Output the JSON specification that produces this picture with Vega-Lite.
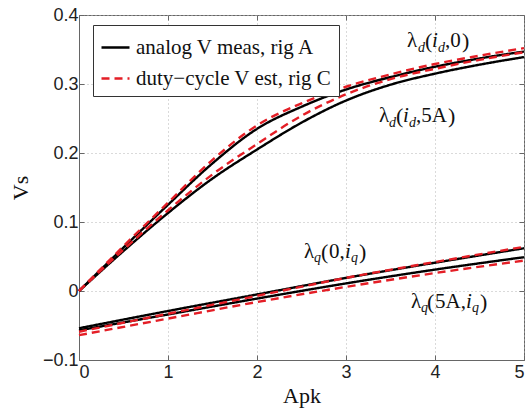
{
  "$schema": "https://vega.github.io/schema/vega-lite/v6.json",
  "width": 445,
  "height": 345,
  "autosize": {"type": "none"},
  "padding": {"left": 79, "top": 15, "right": 4, "bottom": 50},
  "background": "white",
  "config": {
    "view": {"stroke": "#666666", "strokeWidth": 1},
    "axis": {
      "labelFont": "Liberation Sans",
      "labelFontSize": 18,
      "labelColor": "#222222",
      "titleFont": "Liberation Serif",
      "titleFontSize": 22,
      "titleFontWeight": "normal",
      "titleColor": "#111111",
      "domainColor": "#666666",
      "tickColor": "#666666",
      "tickSize": -5,
      "gridColor": "#b5b5b5",
      "gridDash": [1, 3],
      "gridWidth": 1
    }
  },
  "datasets": {
    "curves": [
      {"x": 0, "y": 0, "c": "d0", "s": "analog V meas, rig A"},
      {"x": 0.5, "y": 0.063, "c": "d0", "s": "analog V meas, rig A"},
      {"x": 1, "y": 0.125, "c": "d0", "s": "analog V meas, rig A"},
      {"x": 1.5, "y": 0.185, "c": "d0", "s": "analog V meas, rig A"},
      {"x": 2, "y": 0.235, "c": "d0", "s": "analog V meas, rig A"},
      {"x": 2.5, "y": 0.267, "c": "d0", "s": "analog V meas, rig A"},
      {"x": 3, "y": 0.292, "c": "d0", "s": "analog V meas, rig A"},
      {"x": 3.5, "y": 0.31, "c": "d0", "s": "analog V meas, rig A"},
      {"x": 4, "y": 0.325, "c": "d0", "s": "analog V meas, rig A"},
      {"x": 4.5, "y": 0.337, "c": "d0", "s": "analog V meas, rig A"},
      {"x": 5, "y": 0.347, "c": "d0", "s": "analog V meas, rig A"},
      {"x": 0, "y": 0, "c": "d5", "s": "analog V meas, rig A"},
      {"x": 0.5, "y": 0.058, "c": "d5", "s": "analog V meas, rig A"},
      {"x": 1, "y": 0.113, "c": "d5", "s": "analog V meas, rig A"},
      {"x": 1.5, "y": 0.163, "c": "d5", "s": "analog V meas, rig A"},
      {"x": 2, "y": 0.205, "c": "d5", "s": "analog V meas, rig A"},
      {"x": 2.5, "y": 0.244, "c": "d5", "s": "analog V meas, rig A"},
      {"x": 3, "y": 0.276, "c": "d5", "s": "analog V meas, rig A"},
      {"x": 3.5, "y": 0.299, "c": "d5", "s": "analog V meas, rig A"},
      {"x": 4, "y": 0.315, "c": "d5", "s": "analog V meas, rig A"},
      {"x": 4.5, "y": 0.328, "c": "d5", "s": "analog V meas, rig A"},
      {"x": 5, "y": 0.339, "c": "d5", "s": "analog V meas, rig A"},
      {"x": 0, "y": -0.054, "c": "q0", "s": "analog V meas, rig A"},
      {"x": 1, "y": -0.029, "c": "q0", "s": "analog V meas, rig A"},
      {"x": 2, "y": -0.005, "c": "q0", "s": "analog V meas, rig A"},
      {"x": 3, "y": 0.019, "c": "q0", "s": "analog V meas, rig A"},
      {"x": 4, "y": 0.041, "c": "q0", "s": "analog V meas, rig A"},
      {"x": 5, "y": 0.062, "c": "q0", "s": "analog V meas, rig A"},
      {"x": 0, "y": -0.057, "c": "q5", "s": "analog V meas, rig A"},
      {"x": 1, "y": -0.034, "c": "q5", "s": "analog V meas, rig A"},
      {"x": 2, "y": -0.011, "c": "q5", "s": "analog V meas, rig A"},
      {"x": 3, "y": 0.011, "c": "q5", "s": "analog V meas, rig A"},
      {"x": 4, "y": 0.031, "c": "q5", "s": "analog V meas, rig A"},
      {"x": 5, "y": 0.049, "c": "q5", "s": "analog V meas, rig A"},
      {"x": 0, "y": 0, "c": "d0", "s": "duty−cycle V est, rig C"},
      {"x": 0.5, "y": 0.065, "c": "d0", "s": "duty−cycle V est, rig C"},
      {"x": 1, "y": 0.128, "c": "d0", "s": "duty−cycle V est, rig C"},
      {"x": 1.5, "y": 0.19, "c": "d0", "s": "duty−cycle V est, rig C"},
      {"x": 2, "y": 0.24, "c": "d0", "s": "duty−cycle V est, rig C"},
      {"x": 2.5, "y": 0.272, "c": "d0", "s": "duty−cycle V est, rig C"},
      {"x": 3, "y": 0.296, "c": "d0", "s": "duty−cycle V est, rig C"},
      {"x": 3.5, "y": 0.314, "c": "d0", "s": "duty−cycle V est, rig C"},
      {"x": 4, "y": 0.329, "c": "d0", "s": "duty−cycle V est, rig C"},
      {"x": 4.5, "y": 0.341, "c": "d0", "s": "duty−cycle V est, rig C"},
      {"x": 5, "y": 0.352, "c": "d0", "s": "duty−cycle V est, rig C"},
      {"x": 0, "y": 0, "c": "d5", "s": "duty−cycle V est, rig C"},
      {"x": 0.5, "y": 0.06, "c": "d5", "s": "duty−cycle V est, rig C"},
      {"x": 1, "y": 0.117, "c": "d5", "s": "duty−cycle V est, rig C"},
      {"x": 1.5, "y": 0.169, "c": "d5", "s": "duty−cycle V est, rig C"},
      {"x": 2, "y": 0.213, "c": "d5", "s": "duty−cycle V est, rig C"},
      {"x": 2.5, "y": 0.254, "c": "d5", "s": "duty−cycle V est, rig C"},
      {"x": 3, "y": 0.285, "c": "d5", "s": "duty−cycle V est, rig C"},
      {"x": 3.5, "y": 0.307, "c": "d5", "s": "duty−cycle V est, rig C"},
      {"x": 4, "y": 0.322, "c": "d5", "s": "duty−cycle V est, rig C"},
      {"x": 4.5, "y": 0.335, "c": "d5", "s": "duty−cycle V est, rig C"},
      {"x": 5, "y": 0.346, "c": "d5", "s": "duty−cycle V est, rig C"},
      {"x": 0, "y": -0.059, "c": "q0", "s": "duty−cycle V est, rig C"},
      {"x": 1, "y": -0.033, "c": "q0", "s": "duty−cycle V est, rig C"},
      {"x": 2, "y": -0.007, "c": "q0", "s": "duty−cycle V est, rig C"},
      {"x": 3, "y": 0.019, "c": "q0", "s": "duty−cycle V est, rig C"},
      {"x": 4, "y": 0.042, "c": "q0", "s": "duty−cycle V est, rig C"},
      {"x": 5, "y": 0.064, "c": "q0", "s": "duty−cycle V est, rig C"},
      {"x": 0, "y": -0.064, "c": "q5", "s": "duty−cycle V est, rig C"},
      {"x": 1, "y": -0.04, "c": "q5", "s": "duty−cycle V est, rig C"},
      {"x": 2, "y": -0.016, "c": "q5", "s": "duty−cycle V est, rig C"},
      {"x": 3, "y": 0.006, "c": "q5", "s": "duty−cycle V est, rig C"},
      {"x": 4, "y": 0.026, "c": "q5", "s": "duty−cycle V est, rig C"},
      {"x": 5, "y": 0.044, "c": "q5", "s": "duty−cycle V est, rig C"}
    ],
    "labels": [
      {"x": 3.6854, "y": 0.3536, "t": "λ", "k": "main"},
      {"x": 3.809, "y": 0.3464, "t": "d", "k": "sub"},
      {"x": 3.8876, "y": 0.3536, "t": "(", "k": "paren"},
      {"x": 3.9663, "y": 0.3536, "t": "i", "k": "ital"},
      {"x": 4.0337, "y": 0.3464, "t": "d", "k": "sub"},
      {"x": 4.1124, "y": 0.3536, "t": ",0", "k": "main"},
      {"x": 4.3034, "y": 0.3536, "t": ")", "k": "paren"},
      {"x": 3.3708, "y": 0.2449, "t": "λ", "k": "main"},
      {"x": 3.4831, "y": 0.2377, "t": "d", "k": "sub"},
      {"x": 3.5618, "y": 0.2449, "t": "(", "k": "paren"},
      {"x": 3.6404, "y": 0.2449, "t": "i", "k": "ital"},
      {"x": 3.7079, "y": 0.2377, "t": "d", "k": "sub"},
      {"x": 3.7865, "y": 0.2449, "t": ",5A", "k": "main"},
      {"x": 4.1461, "y": 0.2449, "t": ")", "k": "paren"},
      {"x": 2.5281, "y": 0.0478, "t": "λ", "k": "main"},
      {"x": 2.6404, "y": 0.042, "t": "q", "k": "sub"},
      {"x": 2.7191, "y": 0.0478, "t": "(", "k": "paren"},
      {"x": 2.809, "y": 0.0478, "t": "0,", "k": "main"},
      {"x": 2.9888, "y": 0.0478, "t": "i", "k": "ital"},
      {"x": 3.0562, "y": 0.042, "t": "q", "k": "sub"},
      {"x": 3.1461, "y": 0.0478, "t": ")", "k": "paren"},
      {"x": 3.7303, "y": -0.0246, "t": "λ", "k": "main"},
      {"x": 3.8427, "y": -0.0304, "t": "q", "k": "sub"},
      {"x": 3.9101, "y": -0.0246, "t": "(", "k": "paren"},
      {"x": 4.0, "y": -0.0246, "t": "5A,", "k": "main"},
      {"x": 4.3483, "y": -0.0246, "t": "i", "k": "ital"},
      {"x": 4.4157, "y": -0.0304, "t": "q", "k": "sub"},
      {"x": 4.5056, "y": -0.0246, "t": ")", "k": "paren"}
    ]
  },
  "layer": [
    {
      "data": {"name": "curves"},
      "mark": {"type": "line", "strokeWidth": 2.4, "interpolate": "monotone"},
      "encoding": {
        "x": {
          "field": "x", "type": "quantitative",
          "scale": {"domain": [0, 5], "nice": false, "zero": false},
          "axis": {"orient": "bottom", "values": [0, 1, 2, 3, 4, 5], "title": "Apk", "labelPadding": 8, "titlePadding": 4, "grid": true, "format": "d"}
        },
        "y": {
          "field": "y", "type": "quantitative",
          "scale": {"domain": [-0.1, 0.4], "nice": false, "zero": false},
          "axis": {"orient": "left", "values": [-0.1, 0, 0.1, 0.2, 0.3, 0.4], "title": "Vs", "labelPadding": 6, "titlePadding": 10, "grid": true,
                   "labelExpr": "abs(datum.value) < 1e-9 ? '0' : format(datum.value, '.1f')"}
        },
        "detail": {"field": "c"},
        "color": {
          "field": "s", "type": "nominal",
          "scale": {"domain": ["analog V meas, rig A", "duty−cycle V est, rig C"], "range": ["#000000", "#e41e26"]},
          "legend": {
            "title": null, "orient": "none", "legendX": 14, "legendY": 10,
            "fillColor": "white", "strokeColor": "#333333", "padding": 7,
            "labelFont": "Liberation Serif", "labelFontSize": 21, "labelColor": "#111111",
            "labelOffset": 5, "symbolType": "stroke", "symbolSize": 784, "symbolStrokeWidth": 2.5,
            "rowPadding": 5, "labelLimit": 400
          }
        },
        "strokeDash": {
          "field": "s", "type": "nominal",
          "scale": {"domain": ["analog V meas, rig A", "duty−cycle V est, rig C"], "range": [[1, 0], [8, 5]]},
          "legend": {"title": null}
        }
      }
    },
    {
      "data": {"name": "labels"},
      "transform": [{"filter": "datum.k == 'main'"}],
      "mark": {"type": "text", "font": "Liberation Serif", "fontSize": 21, "align": "left", "baseline": "alphabetic", "color": "#111111"},
      "encoding": {
        "x": {"field": "x", "type": "quantitative", "axis": {"orient": "top", "values": [0, 1, 2, 3, 4, 5], "labels": false, "domain": false, "grid": false, "title": null}},
        "y": {"field": "y", "type": "quantitative", "axis": {"orient": "right", "values": [-0.1, 0, 0.1, 0.2, 0.3, 0.4], "labels": false, "domain": false, "grid": false, "title": null}},
        "text": {"field": "t"}
      }
    },
    {
      "data": {"name": "labels"},
      "transform": [{"filter": "datum.k == 'ital'"}],
      "mark": {"type": "text", "font": "Liberation Serif", "fontSize": 21, "fontStyle": "italic", "align": "left", "baseline": "alphabetic", "color": "#111111"},
      "encoding": {
        "x": {"field": "x", "type": "quantitative", "axis": null},
        "y": {"field": "y", "type": "quantitative", "axis": null},
        "text": {"field": "t"}
      }
    },
    {
      "data": {"name": "labels"},
      "transform": [{"filter": "datum.k == 'sub'"}],
      "mark": {"type": "text", "font": "Liberation Serif", "fontSize": 14, "fontStyle": "italic", "align": "left", "baseline": "alphabetic", "color": "#111111"},
      "encoding": {
        "x": {"field": "x", "type": "quantitative", "axis": null},
        "y": {"field": "y", "type": "quantitative", "axis": null},
        "text": {"field": "t"}
      }
    },
    {
      "data": {"name": "labels"},
      "transform": [{"filter": "datum.k == 'paren'"}],
      "mark": {"type": "text", "font": "Liberation Serif", "fontSize": 22, "align": "left", "baseline": "alphabetic", "dy": 1, "color": "#111111"},
      "encoding": {
        "x": {"field": "x", "type": "quantitative", "axis": null},
        "y": {"field": "y", "type": "quantitative", "axis": null},
        "text": {"field": "t"}
      }
    }
  ],
  "resolve": {"axis": {"x": "independent", "y": "independent"}}
}
